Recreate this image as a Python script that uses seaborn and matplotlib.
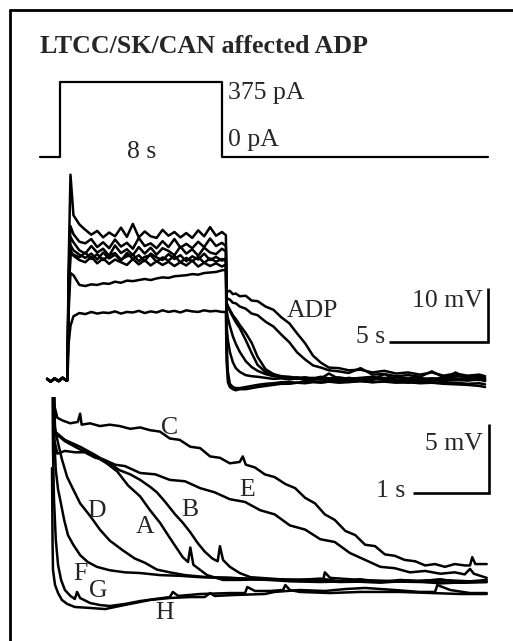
import matplotlib
matplotlib.use("Agg")
import matplotlib.pyplot as plt
from matplotlib.lines import Line2D
import pandas as pd
import seaborn as sns

# ---------------- command current (pA) ----------------
t_cmd = [-1.0, 0.0, 0.0, 8.0, 8.0, 21.15]
i_cmd = [0, 0, 375, 375, 0, 0]

# ---------------- full voltage traces (s, mV above rest) ----------------
t_mid_pre = [-1.03, -0.85, -0.65, -0.45, -0.25, -0.05, 0.0]
v_mid_pre = [0.2, -0.3, 0.3, -0.2, 0.4, -0.1, 0.0]
t_mid_on = [0.05, 0.15]
t_mid_plat = [0.3, 0.6, 0.9, 1.2, 1.5, 1.8, 2.1, 2.4, 2.7, 3.0, 3.3, 3.6, 3.9, 4.2,
              4.5, 4.8, 5.1, 5.4, 5.7, 6.0, 6.3, 6.6, 6.9, 7.2, 7.5, 7.8, 8.0]
t_mid_post = [8.03, 8.1, 8.2, 8.35, 8.5, 8.7, 9.0, 9.3, 9.6, 10.0, 10.4, 10.8, 11.2,
              11.6, 12.0, 12.4, 12.8, 13.2, 13.7, 14.2, 14.8, 15.4, 16.0, 16.6, 17.2,
              17.8, 18.4, 19.0, 19.6, 20.2, 20.8, 21.09]

mC_on = [20.0, 38.0]
mC_plat = [30.5, 28.8, 27.8, 26.9, 27.6, 26.4, 27.3, 26.6, 28.2, 26.5, 28.9, 26.4, 27.5, 26.6,
           26.3, 27.8, 26.7, 27.4, 26.4, 27.2, 26.3, 27.7, 26.6, 28.3, 26.7, 27.4, 26.8]
mC_post = [16.7, 16.4, 16.5, 15.9, 16.0, 15.5, 15.6, 14.7, 14.6, 13.6, 13.0, 11.6, 10.5, 8.6,
           6.8, 4.5, 3.2, 2.3, 2.2, 1.8, 1.9, 1.4, 1.7, 1.2, 1.4, 1.0, 1.4, 0.8, 1.2, 0.8, 1.0, 0.7]

mE_on = [18.0, 28.5]
mE_plat = [27.0, 25.6, 25.3, 26.1, 24.6, 25.5, 24.4, 26.0, 24.7, 25.4, 24.3, 26.3, 24.8, 25.3,
           24.4, 25.7, 24.6, 26.1, 24.5, 25.2, 24.4, 25.6, 24.6, 26.2, 24.8, 25.4, 24.8]
mE_post = [15.4, 15.0, 14.9, 14.3, 14.2, 13.6, 13.2, 12.3, 12.0, 10.8, 9.9, 8.4, 7.0, 5.1,
           3.8, 2.7, 2.3, 1.8, 1.6, 1.3, 2.2, 1.0, 1.1, 0.7, 0.9, 0.6, 1.6, 0.5, 0.8, 0.5, 0.7, 0.4]

mB_on = [17.0, 26.5]
mB_plat = [25.5, 24.0, 23.4, 24.8, 23.6, 24.3, 23.0, 24.9, 23.5, 24.2, 23.1, 24.6, 23.4, 24.5,
           23.2, 24.4, 23.9, 23.1, 24.7, 23.4, 24.2, 23.0, 24.5, 23.6, 23.3, 24.3, 23.8]
mB_post = [14.3, 13.7, 13.0, 12.0, 11.3, 10.2, 8.7, 6.9, 4.3, 2.0, 1.1, 0.7, 0.6, 0.4, 0.5,
           0.3, 0.6, 0.3, 0.5, 0.2, 0.4, 0.6, 0.2, 0.5, 0.3, 0.4, 0.1, 0.5, 0.3, 0.2, 0.4, 0.2]

mA_on = [16.0, 25.0]
mA_plat = [24.0, 23.2, 22.6, 23.4, 22.3, 23.6, 22.5, 23.2, 22.1, 23.5, 22.4, 23.1, 22.0, 23.4,
           22.7, 22.2, 23.3, 22.4, 23.1, 22.0, 22.9, 22.3, 23.4, 22.2, 22.8, 22.1, 22.6]
mA_post = [14.3, 13.5, 12.8, 11.7, 10.7, 9.6, 7.4, 5.0, 2.8, 1.5, 0.9, 0.6, 0.4, 0.2, 0.4,
           0.1, 0.3, 1.2, 0.2, 0.0, 0.3, 0.1, 0.4, 0.0, 0.2, 0.1, 0.3, -0.1, 0.2, 0.0, 0.1, -0.2]

mD_on = [15.0, 24.0]
mD_plat = [23.0, 22.2, 21.8, 22.8, 21.6, 22.5, 21.5, 22.3, 21.8, 21.3, 22.4, 21.4, 22.2, 21.2,
           22.0, 21.3, 21.9, 21.1, 21.8, 21.2, 22.1, 21.0, 21.7, 21.1, 21.6, 21.0, 21.4]
mD_post = [13.0, 11.5, 10.0, 8.1, 6.7, 5.2, 3.5, 2.4, 1.7, 1.1, 0.7, 0.6, 0.3, 0.5, 0.2,
           0.4, 0.1, 0.3, 0.0, 0.4, 0.1, 0.2, 0.3, 0.0, 0.2, -0.1, 0.3, 0.1, 1.4, 0.1, 0.0, 0.1]

mF_on = [14.0, 23.5]
mF_plat = [23.2, 22.7, 23.6, 22.4, 23.3, 22.2, 23.1, 23.5, 22.3, 22.9, 23.2, 22.0, 22.8, 23.1,
           21.9, 22.7, 22.1, 23.0, 21.8, 22.6, 22.0, 22.8, 21.7, 22.5, 21.9, 22.4, 22.0]
mF_post = [10.2, 7.4, 5.2, 3.3, 2.2, 1.5, 0.9, 0.7, 0.6, 0.4, 0.2, 0.3, 0.1, 0.3, 0.0,
           0.2, 0.1, 0.0, 0.2, -0.1, 0.1, 0.0, 1.1, 0.0, -0.1, 0.1, 0.0, -0.2, 0.0, -0.1, 0.1, -0.1]

mG_on = [12.0, 19.8]
mG_plat = [19.4, 17.6, 17.4, 17.7, 17.6, 17.9, 17.8, 18.2, 18.0, 18.4, 18.3, 18.5, 18.7, 18.5,
           18.8, 19.0, 18.9, 19.2, 19.3, 19.4, 19.6, 19.5, 19.8, 19.9, 20.0, 20.3, 20.4]
mG_post = [7.4, 1.5, -0.7, -1.3, -1.5, -1.5, -1.3, -1.1, -0.9, -0.7, -0.6, -0.4, -0.4, -0.5,
           -0.3, -0.2, -0.4, -0.3, -0.1, -0.3, -0.2, -0.4, -0.2, -0.3, -0.5, -0.3, -0.4, -0.6,
           -0.5, -0.7, -0.6, -0.8]

mH_on = [6.5, 10.0]
mH_plat = [11.8, 12.4, 12.2, 12.6, 12.3, 12.5, 12.4, 12.7, 12.3, 12.6, 12.5, 12.8, 12.4, 12.7,
           12.5, 12.9, 12.6, 12.8, 12.5, 12.9, 12.7, 12.6, 12.9, 12.7, 12.8, 12.6, 12.6]
mH_post = [3.7, -0.4, -1.3, -1.7, -1.9, -1.7, -1.7, -1.5, -1.3, -1.1, -0.9, -0.7, -0.7, -0.5,
           -0.6, -0.4, -0.5, -0.3, -0.5, -0.4, -0.2, -0.4, -0.3, -0.5, -0.4, -0.6, -0.5, -0.7,
           -0.8, -0.9, -1.1, -1.3]

# ---------------- expanded afterdepolarisation (s after step, mV) ----------------
bC_t = [0.0, 0.03, 0.07, 0.14, 0.24, 0.34, 0.37, 0.39, 0.5, 0.63, 0.76, 0.89, 1.03, 1.16,
        1.29, 1.42, 1.55, 1.68, 1.82, 1.95, 2.08, 2.21, 2.34, 2.47, 2.51, 2.55, 2.67, 2.80,
        2.93, 3.07, 3.20, 3.33, 3.46, 3.59, 3.72, 3.86, 3.99, 4.12, 4.25, 4.38, 4.51, 4.64,
        4.78, 4.91, 5.04, 5.17, 5.30, 5.43, 5.50, 5.53, 5.57, 5.72]
bC_v = [20.0, 12.8, 11.9, 11.7, 11.5, 11.6, 12.2, 11.4, 11.5, 11.3, 11.4, 11.3, 11.1, 11.2,
        11.0, 10.9, 10.4, 10.3, 9.8, 9.7, 9.1, 9.0, 8.6, 8.7, 9.1, 8.5, 8.3, 7.8, 7.6, 7.1,
        6.8, 6.1, 5.7, 4.9, 4.5, 3.7, 3.4, 2.7, 2.6, 2.0, 1.9, 1.6, 1.5, 1.2, 1.3, 1.1, 1.3,
        1.2, 1.2, 1.8, 1.3, 1.3]

bE_t = [0.0, 0.03, 0.07, 0.17, 0.30, 0.43, 0.57, 0.67, 0.83, 0.96, 1.16, 1.36, 1.55, 1.75,
        1.95, 2.14, 2.34, 2.54, 2.74, 2.93, 3.13, 3.33, 3.53, 3.72, 3.92, 4.12, 4.32, 4.51,
        4.71, 4.91, 5.11, 5.30, 5.43, 5.50, 5.55, 5.72]
bE_v = [20.0, 10.3, 9.3, 9.5, 9.4, 9.4, 9.0, 8.9, 8.5, 8.4, 7.9, 7.8, 7.4, 7.3, 6.8, 6.5,
        6.0, 5.8, 5.2, 4.9, 4.1, 3.8, 3.1, 2.9, 2.1, 1.6, 1.1, 1.0, 0.7, 0.8, 0.6, 0.7, 0.55,
        0.95, 0.6, 0.3]

bB_t = [0.0, 0.04, 0.17, 0.37, 0.57, 0.72, 0.89, 1.03, 1.16, 1.29, 1.38, 1.49, 1.62, 1.72,
        1.82, 1.92, 2.01, 2.11, 2.18, 2.21, 2.25, 2.34, 2.47, 2.61, 2.74, 3.0, 3.26, 3.53,
        3.79, 4.05, 4.32, 4.58, 4.84, 5.11, 5.37, 5.72]
bB_v = [20.0, 10.9, 10.3, 9.8, 9.2, 8.7, 8.1, 7.8, 7.4, 6.9, 6.5, 5.8, 4.9, 4.3, 3.6, 2.8,
        2.2, 1.7, 1.5, 2.6, 1.6, 1.1, 0.65, 0.35, 0.3, 0.2, 0.15, 0.25, 0.05, 0.2, 0.0, 0.15,
        0.05, 0.2, -0.05, 0.05]

bA_t = [0.0, 0.04, 0.17, 0.37, 0.57, 0.72, 0.86, 1.0, 1.16, 1.29, 1.42, 1.55, 1.72, 1.79,
        1.82, 1.86, 2.04, 2.25, 2.47, 2.74, 3.13, 3.53, 3.92, 4.32, 4.71, 5.11, 5.50, 5.72]
bA_v = [20.0, 10.8, 10.2, 9.6, 9.1, 8.6, 8.0, 7.0, 6.2, 5.2, 4.3, 3.2, 1.8, 1.45, 2.5, 1.25,
        0.5, 0.15, 0.15, 0.2, 0.05, 0.0, 0.05, -0.05, 0.1, -0.1, 0.0, 0.0]

bD_t = [0.0, 0.03, 0.07, 0.13, 0.20, 0.28, 0.37, 0.5, 0.63, 0.76, 0.93, 1.09, 1.22, 1.38,
        1.55, 1.75, 2.04, 2.34, 2.74, 3.13, 3.57, 3.59, 3.66, 4.05, 4.58, 5.11, 5.50, 5.72]
bD_v = [20.0, 11.4, 10.3, 8.9, 7.6, 6.7, 5.7, 4.8, 3.8, 3.0, 2.3, 1.7, 1.4, 0.9, 0.7, 0.5,
        0.35, 0.3, 0.2, 0.15, 0.2, 0.7, 0.3, 0.15, 0.05, 0.15, 0.05, 0.15]

bF_t = [0.0, 0.03, 0.05, 0.08, 0.11, 0.16, 0.21, 0.28, 0.37, 0.47, 0.59, 0.76, 0.96, 1.16,
        1.42, 1.68, 1.95, 2.34, 2.83, 3.26, 3.79, 4.32, 4.84, 5.37, 5.72]
bF_v = [20.0, 10.3, 8.1, 6.7, 5.9, 4.5, 3.4, 2.7, 1.95, 1.45, 1.1, 0.85, 0.7, 0.65, 0.5,
        0.45, 0.35, 0.3, 0.15, 0.15, 0.0, 0.05, 0.0, -0.05, 0.0]

bG_t = [0.0, 0.013, 0.026, 0.05, 0.08, 0.12, 0.17, 0.24, 0.30, 0.33, 0.37, 0.5, 0.63, 0.76,
        0.96, 1.16, 1.36, 1.55, 1.59, 1.66, 1.95, 2.34, 2.54, 2.57, 2.67, 2.87, 3.04, 3.07,
        3.13, 3.26, 3.66, 4.05, 4.58, 5.0, 5.37, 5.72]
bG_v = [20.0, 9.6, 6.0, 3.04, 1.23, 0.14, -0.58, -1.0, -1.23, -0.72, -1.16, -1.52, -1.67,
        -1.74, -1.59, -1.38, -1.23, -1.09, -0.72, -1.01, -0.87, -0.8, -0.8, -0.36, -0.65,
        -0.65, -0.58, -0.22, -0.58, -0.72, -0.8, -0.72, -0.72, -0.8, -0.87, -0.87]

bH_t = [0.0, 0.007, 0.013, 0.04, 0.08, 0.13, 0.20, 0.30, 0.5, 0.70, 0.89, 1.09, 1.29, 1.55,
        1.82, 2.01, 2.08, 2.14, 2.41, 2.80, 2.93, 3.26, 3.59, 3.86, 4.12, 4.51, 4.84, 5.04,
        5.07, 5.24, 5.50, 5.72]
bH_v = [8.26, 3.04, 0.87, -0.22, -0.8, -1.3, -1.59, -1.81, -1.88, -1.96, -1.74, -1.52, -1.3,
        -1.16, -1.09, -1.09, -0.8, -1.01, -0.94, -0.87, -0.72, -0.58, -0.65, -0.51, -0.43,
        -0.58, -0.72, -0.72, -0.22, -0.58, -0.8, -0.8]

trace_names = ["A", "B", "C", "D", "E", "F", "G", "H"]
label_t = [1.224, 1.816, 1.553, 0.592, 2.566, 0.368, 0.605, 1.487]
label_v = [3.99, 5.22, 11.16, 5.14, 6.67, 0.58, -0.65, -2.25]

# ---------------- tables ----------------
mid_parts = {
    "A": (mA_on, mA_plat, mA_post), "B": (mB_on, mB_plat, mB_post),
    "C": (mC_on, mC_plat, mC_post), "D": (mD_on, mD_plat, mD_post),
    "E": (mE_on, mE_plat, mE_post), "F": (mF_on, mF_plat, mF_post),
    "G": (mG_on, mG_plat, mG_post), "H": (mH_on, mH_plat, mH_post),
}
t_mid_all = t_mid_pre + t_mid_on + t_mid_plat + t_mid_post
df_mid = pd.concat(
    [pd.DataFrame({"t": t_mid_all, "V": v_mid_pre + on + plat + post, "trace": k})
     for k, (on, plat, post) in mid_parts.items()], ignore_index=True)

zoom_parts = {
    "A": (bA_t, bA_v), "B": (bB_t, bB_v), "C": (bC_t, bC_v), "D": (bD_t, bD_v),
    "E": (bE_t, bE_v), "F": (bF_t, bF_v), "G": (bG_t, bG_v), "H": (bH_t, bH_v),
}
df_zoom = pd.concat(
    [pd.DataFrame({"t": tt, "V": vv, "trace": k}) for k, (tt, vv) in zoom_parts.items()],
    ignore_index=True)
df_cmd = pd.DataFrame({"t": t_cmd, "I": i_cmd, "trace": "cmd"})

# ---------------- figure ----------------
sns.set_style("white")
plt.rcParams["font.family"] = ["Liberation Serif", "DejaVu Serif"]
W, H = 513, 641
fig = plt.figure(figsize=(W / 100, H / 100), dpi=100)
FS = 18.5
LW = 1.8


def px_axes(x0, y0, x1, y1):
    return fig.add_axes([x0 / W, 1 - y1 / H, (x1 - x0) / W, (y1 - y0) / H])


def finish(ax, xlim, ylim):
    ax.set_xlim(*xlim)
    ax.set_ylim(*ylim)
    ax.set_axis_off()


# frame
fig.add_artist(Line2D([10 / W, 10 / W], [0, 1 - 10 / H], transform=fig.transFigure,
                      color="black", lw=2.0))
fig.add_artist(Line2D([10 / W, 1], [1 - 10 / H, 1 - 10 / H], transform=fig.transFigure,
                      color="black", lw=2.0))
fig.text(40 / W, 1 - 53 / H, "LTCC/SK/CAN affected ADP", fontsize=18.6, fontweight="bold",
         ha="left", va="baseline")

# current step
ax_i = px_axes(30, 60, 500, 172)
sns.lineplot(data=df_cmd, x="t", y="I", units="trace", estimator=None, sort=False,
             color="black", lw=1.6, ax=ax_i, legend=False)
finish(ax_i, (-1.481, 21.728), (-75, 485))
ax_i.text(8.3, 320, "375 pA", fontsize=FS, ha="left", va="center")
ax_i.text(8.3, 85, "0 pA", fontsize=FS, ha="left", va="center")
ax_i.text(4.05, 25, "8 s", fontsize=FS, ha="center", va="center")

# full voltage response
ax_m = px_axes(30, 165, 500, 398)
sns.lineplot(data=df_mid, x="t", y="V", units="trace", estimator=None, sort=False,
             color="black", lw=LW, ax=ax_m, legend=False)
finish(ax_m, (-1.894, 21.843), (-3.33, 39.8))
ax_m.plot([16.25, 21.25, 21.25], [7.0, 7.0, 17.0], color="black", lw=1.9,
          solid_joinstyle="miter", solid_capstyle="butt")
ax_m.text(20.98, 13.5, "10 mV", fontsize=FS, ha="right", va="baseline")
ax_m.text(16.04, 6.8, "5 s", fontsize=FS, ha="right", va="baseline")
ax_m.text(12.35, 11.7, "ADP", fontsize=FS, ha="center", va="baseline")

# expanded afterdepolarisation
ax_b = px_axes(30, 397, 500, 630)
sns.lineplot(data=df_zoom, x="t", y="V", units="trace", estimator=None, sort=False,
             color="black", lw=LW, ax=ax_b, legend=False)
finish(ax_b, (-0.2895, 5.8947), (-3.478, 13.406))
ax_b.plot([4.75, 5.75, 5.75], [6.45, 6.45, 11.45], color="black", lw=1.9,
          solid_joinstyle="miter", solid_capstyle="butt")
ax_b.text(5.67, 9.57, "5 mV", fontsize=FS, ha="right", va="baseline")
ax_b.text(4.645, 6.16, "1 s", fontsize=FS, ha="right", va="baseline")
for name, lt, lv in zip(trace_names, label_t, label_v):
    ax_b.text(lt, lv, name, fontsize=FS, ha="center", va="center")

fig.savefig("out.png", dpi=100)
